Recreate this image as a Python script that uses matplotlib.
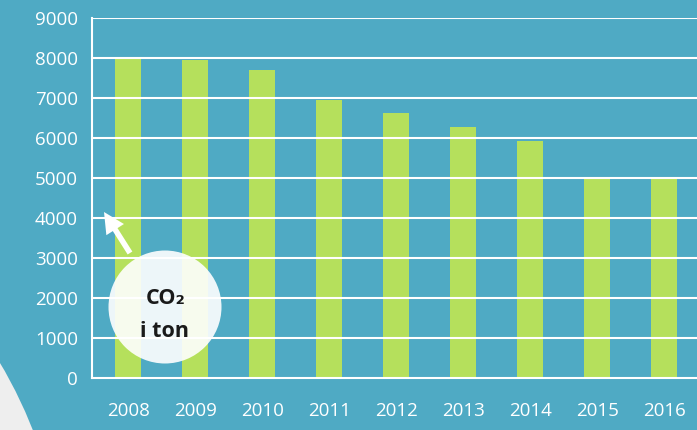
import matplotlib
matplotlib.use("Agg")
import matplotlib.pyplot as plt
from matplotlib.patches import Ellipse

years = ["2008", "2009", "2010", "2011", "2012", "2013", "2014", "2015", "2016"]
co2_ton = [8000, 7950, 7700, 6950, 6625, 6275, 5925, 5000, 5000]
yticks = [0, 1000, 2000, 3000, 4000, 5000, 6000, 7000, 8000, 9000]

bg = "#4faac4"
bar_col = "#b5e05c"

plt.rcParams["font.family"] = ["Open Sans", "DejaVu Sans"]

W, H = 697, 430
fig = plt.figure(figsize=(W / 100, H / 100), dpi=100)
fig.patch.set_facecolor(bg)

# big grey circle in lower left corner
fig.add_artist(Ellipse((-400 / W, 1 - 600 / H), 930 / W, 930 / H,
                       transform=fig.transFigure, facecolor="#eeeeee",
                       edgecolor="none", zorder=0))

ax = fig.add_axes([92 / W, 1 - 378 / H, 1 - 92 / W, 360 / H])
ax.set_facecolor(bg)
ax.patch.set_alpha(0)

x = list(range(len(years)))
ax.bar(x, co2_ton, width=0.39, color=bar_col, zorder=1)

ax.set_xlim(-0.54, 8.49)
ax.set_ylim(0, 9000)
ax.set_yticks(yticks)
ax.set_xticks(x)
ax.set_xticklabels(years)
for v in yticks[1:]:
    ax.axhline(v, color="white", lw=1.5, zorder=2)

for side in ["top", "right"]:
    ax.spines[side].set_visible(False)
for side in ["left", "bottom"]:
    ax.spines[side].set_color("white")
    ax.spines[side].set_linewidth(1.5)
    ax.spines[side].set_zorder(3)

ax.tick_params(axis="both", length=0, colors="white", labelsize=13.5)
ax.tick_params(axis="y", pad=10)
ax.tick_params(axis="x", pad=17)

# CO2 label bubble with arrow
fig.add_artist(Ellipse((165 / W, 1 - 307 / H), 113 / W, 113 / H,
                       transform=fig.transFigure, facecolor="white",
                       alpha=0.9, edgecolor="none", zorder=5))
fig.text(166 / W, 1 - 304 / H, "CO₂", ha="center", va="baseline",
         fontsize=15.5, fontweight="bold", color="#1a1a1a", zorder=6)
fig.text(165 / W, 1 - 337 / H, "i ton", ha="center", va="baseline",
         fontsize=15.5, fontweight="bold", color="#1a1a1a", zorder=6)
ax.annotate("", xy=(104, H - 212), xytext=(130, H - 253),
            xycoords="figure pixels", textcoords="figure pixels",
            arrowprops=dict(facecolor="white", edgecolor="none",
                            width=4, headwidth=15, headlength=15),
            annotation_clip=False, zorder=6)

fig.savefig("out.png", dpi=100, facecolor=bg)
